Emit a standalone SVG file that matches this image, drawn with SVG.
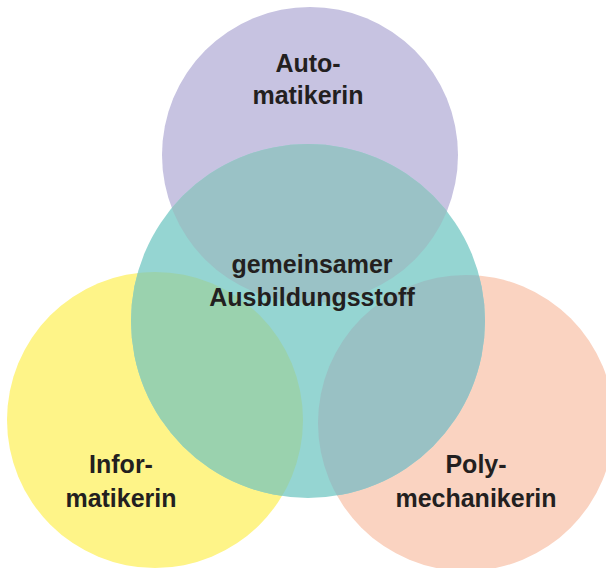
<svg xmlns="http://www.w3.org/2000/svg" width="606" height="568" viewBox="0 0 606 568">
<style>
.lbl{font-family:"Liberation Sans",Arial,sans-serif;font-weight:bold;font-size:25px;fill:#231f20;text-anchor:middle}
</style>
<defs>
<clipPath id="clipTeal"><circle cx="308" cy="321" r="177"/></clipPath>
</defs>
<rect width="606" height="568" fill="#ffffff"/>
<g id="automatikerin">
<circle cx="310" cy="155" r="148" fill="#c7c3e1"/>
</g>
<g id="informatikerin">
<circle cx="155" cy="420" r="148" fill="#fef488"/>
</g>
<g id="polymechanikerin">
<circle cx="466" cy="423" r="148" fill="#fad3c1"/>
</g>
<g id="gemeinsam">
<circle cx="308" cy="321" r="177" fill="#95d5d2"/>
<g clip-path="url(#clipTeal)">
<circle cx="310" cy="155" r="148" fill="#9ac2c6"/>
<circle cx="155" cy="420" r="148" fill="#9ad2ae"/>
<circle cx="466" cy="423" r="148" fill="#99c1c4"/>
</g>
</g>
<g id="labels">
<text class="lbl" x="308" y="72">Auto-</text>
<text class="lbl" x="308" y="104">matikerin</text>
<text class="lbl" x="312" y="273">gemeinsamer</text>
<text class="lbl" x="312" y="306">Ausbildungsstoff</text>
<text class="lbl" x="121" y="473">Infor-</text>
<text class="lbl" x="121" y="507">matikerin</text>
<text class="lbl" x="476" y="473">Poly-</text>
<text class="lbl" x="476" y="507">mechanikerin</text>
</g>
</svg>
